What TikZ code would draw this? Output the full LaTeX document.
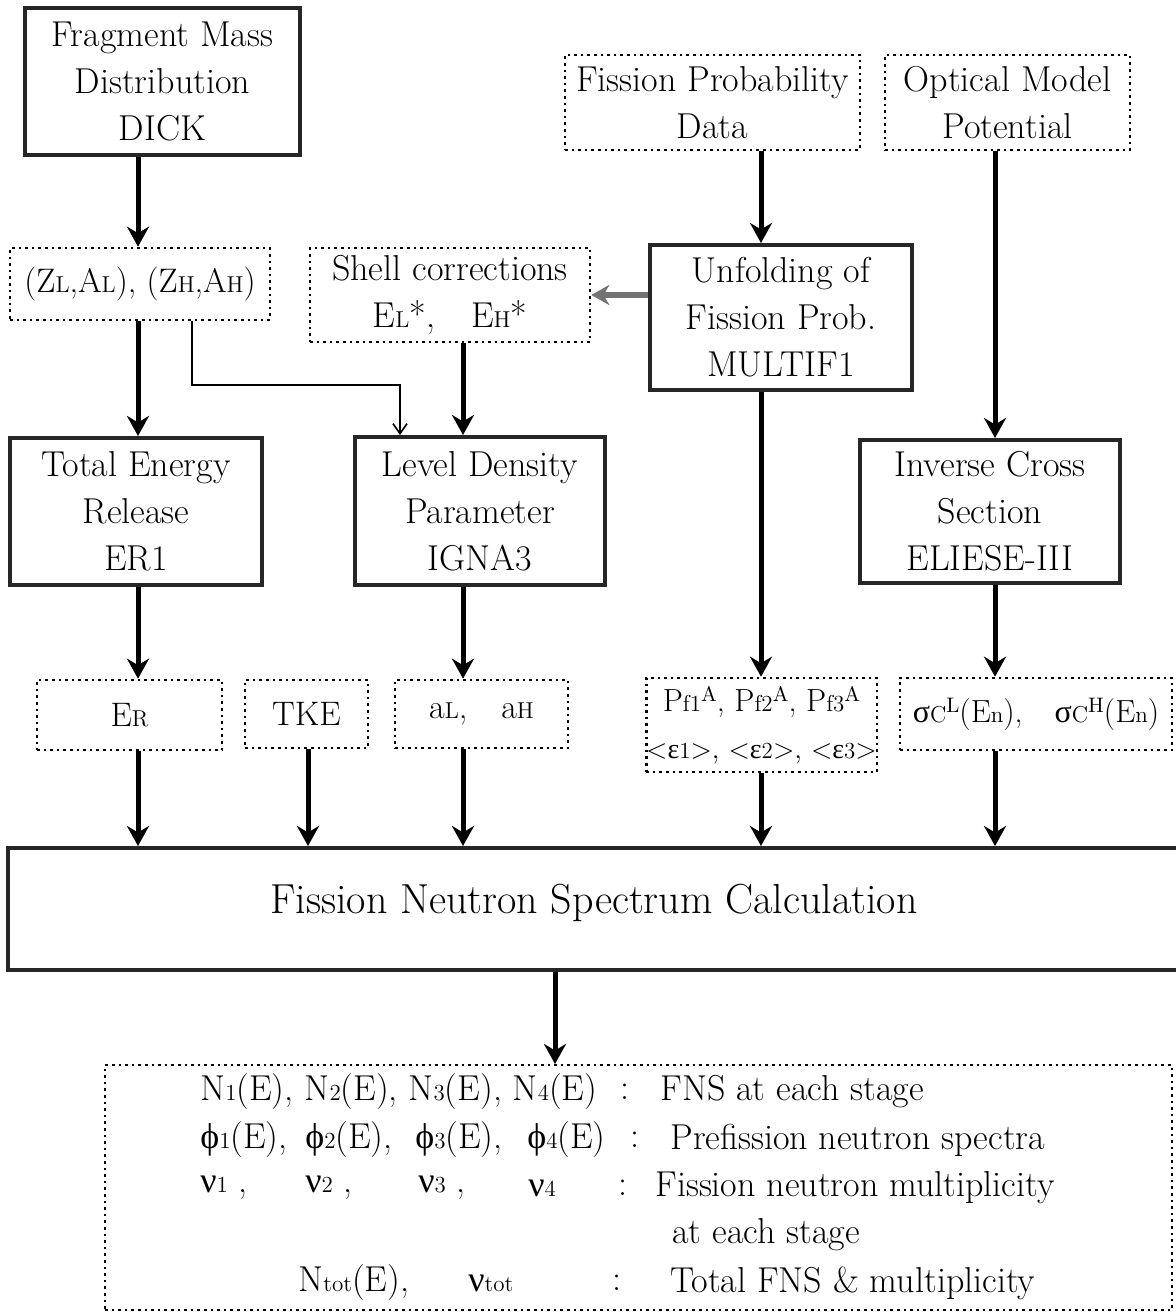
\documentclass[tikz,border=0pt]{standalone}
\usepackage{fontspec}
\usetikzlibrary{arrows.meta,calc}
\newfontfamily\gk{Liberation Serif}
\newcommand\lo[1]{{\fontsize{11.5}{11.5}\selectfont #1}}
\newcommand\hi[1]{\raisebox{0.75ex}{\fontsize{10.5}{10.5}\selectfont #1}}
\begin{document}
\begin{tikzpicture}[x=0.5pt,y=-0.5pt,
  every node/.style={font=\fontsize{18}{23.5}\selectfont, align=center, inner sep=0pt},
  thickbox/.style={draw=black!85, line width=2pt},
  dotbox/.style={draw, line width=1.3pt, dotted},
  arr/.style={line width=2.5pt, -{Stealth[length=10pt,width=11pt]}},
  thinarr/.style={line width=0.8pt, -{Straight Barb[length=5pt,width=7pt]}},
  grayarr/.style={line width=3pt, draw=black!55, -{Stealth[length=9pt,width=10pt]}},
  rowtext/.style={anchor=west, font=\fontsize{18}{22}\selectfont}]
\useasboundingbox (0,0) rectangle (1176,1313);
% nodes
\node[thickbox, minimum width=137.5pt, minimum height=73.5pt] (dick) at (162.5,81.5) {Fragment Mass\\Distribution\\DICK};
\node[dotbox, minimum width=147.5pt, minimum height=47.5pt] (fpd) at (712.5,102.5) {Fission Probability\\Data};
\node[dotbox, minimum width=122.5pt, minimum height=47.5pt] (omp) at (1007.5,102.5) {Optical Model\\Potential};
\node[dotbox, minimum width=130pt, minimum height=36pt, font=\fontsize{17}{22}\selectfont] (za) at (140,284) {(Z\lo{L},A\lo{L}), (Z\lo{H},A\lo{H})};
\node[dotbox, minimum width=140pt, minimum height=47pt] (shell) at (450,295) {Shell corrections\\E\lo{L}*,\quad E\lo{H}*};
\node[thickbox, minimum width=131pt, minimum height=72.5pt] (unf) at (781,317.5) {Unfolding of\\Fission Prob.\\MULTIF1};
\node[thickbox, minimum width=126pt, minimum height=73.5pt] (ter) at (136,511.5) {Total Energy\\Release\\ER1};
\node[thickbox, minimum width=125pt, minimum height=74pt] (ldp) at (480,511) {Level Density\\Parameter\\IGNA3};
\node[thickbox, minimum width=130pt, minimum height=71.5pt] (ics) at (990,511.5) {Inverse Cross\\Section\\ELIESE-III};
\node[dotbox, minimum width=92.5pt, minimum height=35pt, font=\fontsize{17}{22}\selectfont] (er) at (129.5,715) {E\lo{R}};
\node[dotbox, minimum width=61.5pt, minimum height=34pt, font=\fontsize{17}{22}\selectfont] (tke) at (306.5,714) {TKE};
\node[dotbox, minimum width=86.5pt, minimum height=34pt, font=\fontsize{17}{22}\selectfont] (aa) at (481.5,714) {a\lo{L},\quad a\lo{H}};
\node[dotbox, minimum width=113.5pt, minimum height=47pt, font=\fontsize{16}{23.5}\selectfont] (pf) at (761.5,725) {P\lo{f1}\hi{A}, P\lo{f2}\hi{A}, P\lo{f3}\hi{A}\\{\fontsize{14}{14}\selectfont <{\gk ε}\lo{1}>, <{\gk ε}\lo{2}>, <{\gk ε}\lo{3}>}};
\node[dotbox, minimum width=136pt, minimum height=36pt, font=\fontsize{16}{22}\selectfont] (sig) at (1036,714) {{\gk σ}\lo{C}\hi{L}(E\lo{n}),\quad {\gk σ}\lo{C}\hi{H}(E\lo{n})};
\node[thickbox, minimum width=586pt, minimum height=61pt, font=\fontsize{21}{25}\selectfont] (main) at (594,909) {\raisebox{10pt}{Fission Neutron Spectrum Calculation}};
\node[dotbox, line width=1pt, minimum width=533.5pt, minimum height=122.5pt] (out) at (638.5,1187.5) {};
% output text
\node[rowtext] (r1a) at (200,1092) {N\lo{1}(E), N\lo{2}(E), N\lo{3}(E), N\lo{4}(E)};
\node[rowtext] (r1c) at (620,1092) {:};
\node[rowtext] (r1b) at (660,1092) {FNS at each stage};
\node[rowtext] (r2a) at (200,1140) {{\gk ϕ}\lo{1}(E),};
\node[rowtext] (r2b) at (305,1140) {{\gk ϕ}\lo{2}(E),};
\node[rowtext] (r2c) at (415,1140) {{\gk ϕ}\lo{3}(E),};
\node[rowtext] (r2d) at (527,1140) {{\gk ϕ}\lo{4}(E)};
\node[rowtext] (r2e) at (630,1140) {:};
\node[rowtext] (r2f) at (670,1140) {Prefission neutron spectra};
\node[rowtext] (r3a) at (200,1188) {{\gk ν}\lo{1} ,};
\node[rowtext] (r3b) at (305,1188) {{\gk ν}\lo{2} ,};
\node[rowtext] (r3c) at (418,1188) {{\gk ν}\lo{3} ,};
\node[rowtext] (r3d) at (528,1188) {{\gk ν}\lo{4}};
\node[rowtext] (r3e) at (618,1188) {:};
\node[rowtext] (r3f) at (655,1188) {Fission neutron multiplicity};
\node[rowtext] (r4) at (672,1235) {at each stage};
\node[rowtext] (r5a) at (298,1283) {N\lo{tot}(E),};
\node[rowtext] (r5b) at (468,1283) {{\gk ν}\lo{tot}};
\node[rowtext] (r5c) at (612,1283) {:};
\node[rowtext] (r5d) at (670,1283) {Total FNS \& multiplicity};
% column coordinates
\coordinate (c138) at (138,0);
\coordinate (c760) at (761,0);
\coordinate (c995) at (995,0);
\coordinate (c463) at (463,0);
\coordinate (c308) at (308,0);
\coordinate (c555) at (555,0);
\coordinate (c192) at (192,0);
\coordinate (bend) at (400,385);
% arrows
\draw[arr] (dick.south -| c138) -- (za.north -| c138);
\draw[arr] (za.south -| c138) -- (ter.north -| c138);
\draw[arr] (ter.south -| c138) -- (er.north -| c138);
\draw[arr] (er.south -| c138) -- (main.north -| c138);
\draw[arr] (fpd.south -| c760) -- (unf.north -| c760);
\draw[arr] (unf.south -| c760) -- (pf.north -| c760);
\draw[arr] (pf.south -| c760) -- (main.north -| c760);
\draw[arr] (omp.south -| c995) -- (ics.north -| c995);
\draw[arr] (ics.south -| c995) -- (sig.north -| c995);
\draw[arr] (sig.south -| c995) -- (main.north -| c995);
\draw[arr] (shell.south -| c463) -- (ldp.north -| c463);
\draw[arr] (ldp.south -| c463) -- (aa.north -| c463);
\draw[arr] (aa.south -| c463) -- (main.north -| c463);
\draw[arr] (tke.south -| c308) -- (main.north -| c308);
\draw[arr] (main.south -| c555) -- (out.north -| c555);
\draw[thinarr] (za.south -| c192) |- (bend) -- (ldp.north -| bend);
\draw[grayarr] (unf.west |- shell.east) -- (shell.east);
\end{tikzpicture}
\end{document}
